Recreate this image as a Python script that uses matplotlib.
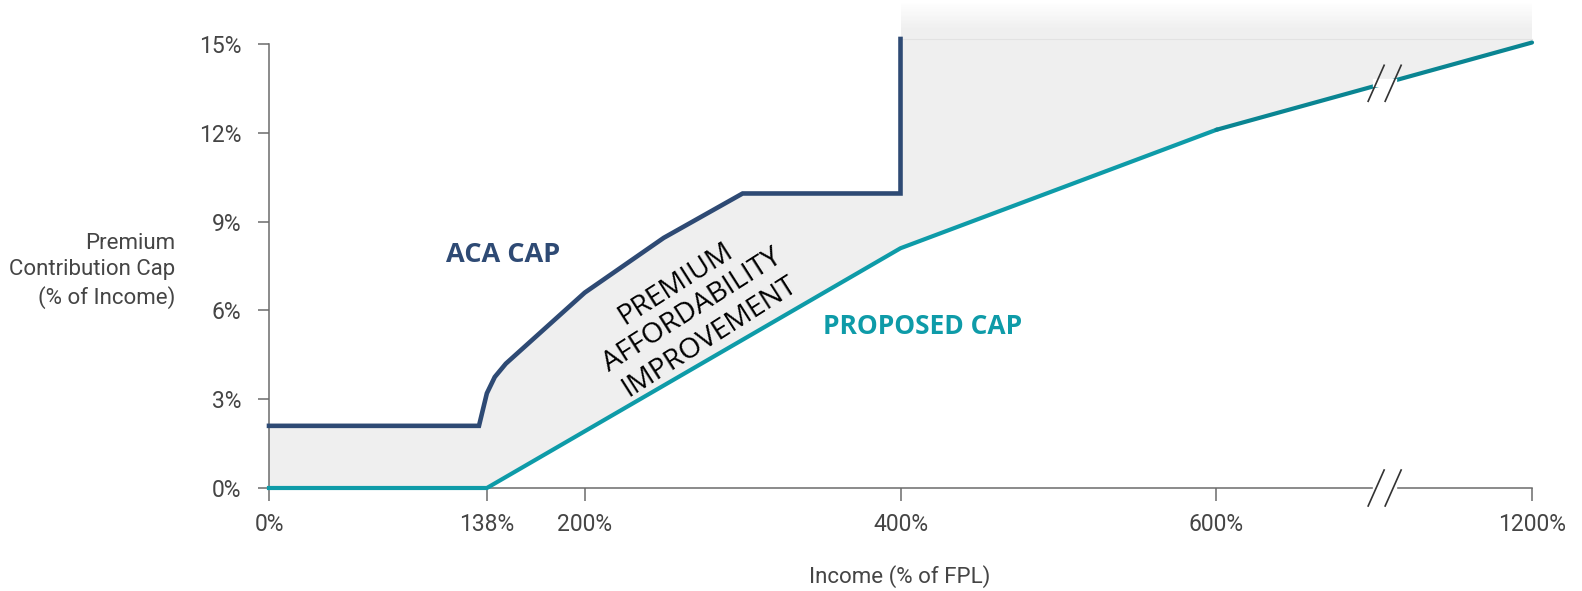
import numpy as np
import matplotlib
matplotlib.use('Agg')
import matplotlib.pyplot as plt

# data (income as % of FPL, cap as % of income)
aca_x = [0, 133, 138, 143, 150, 200, 250, 300, 400, 400]
aca_y = [2.1, 2.1, 3.2, 3.75, 4.2, 6.6, 8.45, 9.95, 9.95, 15.17]
prop_x = [0, 138, 400, 600, 1200]
prop_y = [0, 0, 8.1, 12.1, 15.05]
x_ticks = [0, 138, 200, 400, 600, 1200]
x_labels = ['0%', '138%', '200%', '400%', '600%', '1200%']
y_ticks = [0, 3, 6, 9, 12, 15]
y_labels = ['0%', '3%', '6%', '9%', '12%', '15%']

navy = '#2e4a74'
teal = '#0e9ba8'
teal_dark = '#0a8592'
grey_fill = '#efefef'
text_grey = '#454545'
axis_grey = '#6b6b6b'

# broken axis: 600 -> 1200 squeezed into the width of 200
_a = [-1000, 0, 600, 1200, 3000]
_b = [-1000, 0, 600, 800, 1400]


def fwd(x):
    return np.interp(x, _a, _b)


def inv(x):
    return np.interp(x, _b, _a)


W, H = 1582, 591
fig = plt.figure(figsize=(W / 100, H / 100), dpi=100)
ax = fig.add_axes([269 / W, 1 - 488 / H, (1532 - 269) / W, (488 - 44) / H])
ax.set_xscale('function', functions=(fwd, inv))
ax.set_xlim(0, 1200)
ax.set_ylim(0, 15)

# shaded improvement region
top = aca_y[-1]
up_x = aca_x + [1200]
up_y = aca_y + [top]
poly_x = up_x + prop_x[::-1]
poly_y = up_y + prop_y[::-1]
ax.fill(poly_x, poly_y, color=grey_fill, lw=0, zorder=1, clip_on=False)

# fade above the plot area
n = 30
edges = np.linspace(top, 16.4, n + 1)
for i in range(n):
    a = 1 - i / n
    ax.fill_between([400, 1200], edges[i], edges[i + 1], color=grey_fill,
                    alpha=min(1, a * 1.3), lw=0, zorder=1, clip_on=False)
ax.plot([400, 1200], [top, top], color='#e2e2e2', lw=0.8, zorder=1, clip_on=False)

ax.plot(aca_x, aca_y, color=navy, lw=3.3, zorder=4, clip_on=False,
        solid_joinstyle='miter')
ax.plot(prop_x[:4], prop_y[:4], color=teal, lw=3.0, zorder=4, clip_on=False)
ax.plot(prop_x[3:], prop_y[3:], color=teal_dark, lw=3.0, zorder=4, clip_on=False,
        solid_capstyle='round')

# spines / ticks
for s in ['top', 'right']:
    ax.spines[s].set_visible(False)
for s in ['left', 'bottom']:
    ax.spines[s].set_color(axis_grey)
    ax.spines[s].set_linewidth(1.1)
ax.set_xticks(x_ticks)
ax.set_xticklabels(x_labels)
ax.set_yticks(y_ticks)
ax.set_yticklabels(y_labels)
ax.tick_params(axis='x', length=9, width=1.1, color=axis_grey, pad=9,
               labelsize=16.5, labelcolor=text_grey)
ax.tick_params(axis='y', length=8, width=1.1, color=axis_grey, pad=12,
               labelsize=16.5, labelcolor=text_grey)
ax.minorticks_off()
for lab in ax.get_xticklabels() + ax.get_yticklabels():
    lab.set_family(['Roboto', 'DejaVu Sans'])

# break marks on x axis and on the proposed line
fig.canvas.draw()


def break_mark(xd, yd):
    cx, cy = ax.transData.transform((xd, yd))
    # white gap
    fig.add_artist(plt.Line2D([cx - 8, cx + 8], [cy, cy], transform=None,
                              color='white', lw=6, zorder=5))
    for off in (-8.5, 8.5):
        fig.add_artist(plt.Line2D([cx + off - 8, cx + off + 8], [cy - 18, cy + 18],
                                  transform=None, color='#333333', lw=1.2, zorder=6))


bx = 920
break_mark(bx, 0)
break_mark(bx, np.interp(bx, prop_x, prop_y))

# labels
ax.text(148, 7.87, 'ACA CAP', color=navy, fontsize=19.5, fontweight='bold',
        family=['Open Sans', 'DejaVu Sans'], ha='center', va='center', zorder=6)
ax.text(414, 5.47, 'PROPOSED CAP', color=teal, fontsize=19, fontweight='bold',
        family=['Open Sans', 'DejaVu Sans'], ha='center', va='center', zorder=6)
ax.text(268, 6.0, 'PREMIUM\nAFFORDABILITY\nIMPROVEMENT', color='black',
        fontsize=20.5, rotation=32.5, rotation_mode='anchor', ha='center', va='center',
        multialignment='center', linespacing=1.18,
        family=['Open Sans', 'DejaVu Sans'], zorder=6)

fig.text(175 / W, 1 - 271 / H, 'Premium\nContribution Cap\n(% of Income)',
         ha='right', va='center', multialignment='right', fontsize=16,
         color=text_grey, linespacing=1.3, family=['Roboto', 'DejaVu Sans'])
fig.text(900 / W, 1 - 577 / H, 'Income (% of FPL)', ha='center', va='center',
         fontsize=16, color=text_grey, family=['Roboto', 'DejaVu Sans'])

fig.savefig('out.png', dpi=100)
